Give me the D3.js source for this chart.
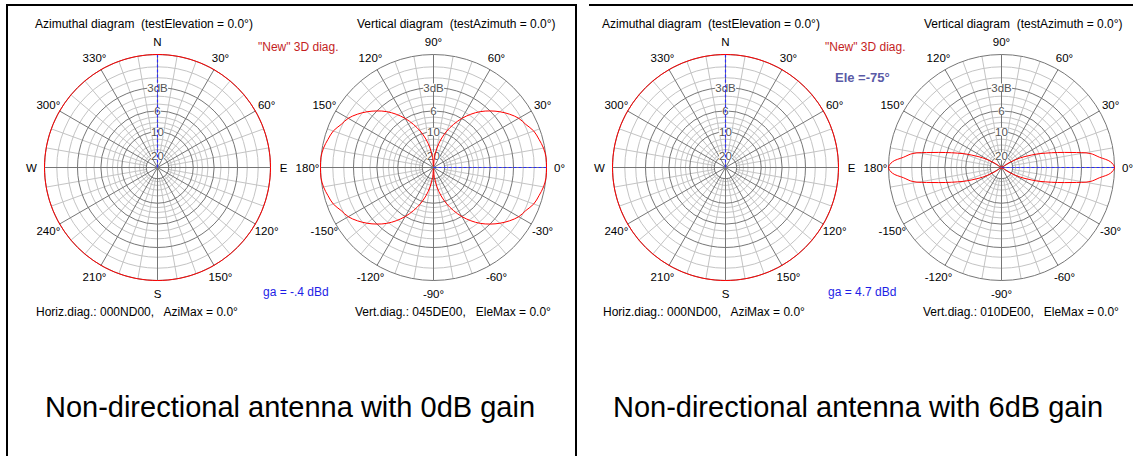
<!DOCTYPE html>
<html>
<head>
<meta charset="utf-8">
<script src="https://cdn.jsdelivr.net/npm/d3@7"></script>
<style>
body{margin:0;background:#fff}
text{font-family:"Liberation Sans",Arial,sans-serif;white-space:pre}
</style>
</head>
<body>
<div id="chart"></div>
<script>
// grid rings, in dB below maximum
var darkRings = [0, 3, 6, 10, 20]
var lightRings = [1, 2, 4, 5, 7, 8, 9, 12, 14, 16, 18]
var ringLabelDb = [3, 6, 10, 20]
var ringLabelText = ["3dB", "6", "10", "20"]

// angle labels
var aziLabelAngles = [0, 30, 60, 90, 120, 150, 180, 210, 240, 270, 300, 330]
var aziLabelText = ["N", "30°", "60°", "E", "120°", "150°", "S", "210°", "240°", "W", "300°", "330°"]
var vertLabelAngles = [0, 30, 60, 90, 120, 150, 180, -150, -120, -90, -60, -30]
var vertLabelText = ["0°", "30°", "60°", "90°", "120°", "150°", "180°", "-150°", "-120°", "-90°", "-60°", "-30°"]

// azimuth patterns (relative dB every 10 deg) - both non directional
var aziAngles = [0,10,20,30,40,50,60,70,80,90,100,110,120,130,140,150,160,170,180,190,200,210,220,230,240,250,260,270,280,290,300,310,320,330,340,350]
var aziDb0 = [0,0,0,0,0,0,0,0,0,0,0,0,0,0,0,0,0,0,0,0,0,0,0,0,0,0,0,0,0,0,0,0,0,0,0,0]
var aziDb6 = [0,0,0,0,0,0,0,0,0,0,0,0,0,0,0,0,0,0,0,0,0,0,0,0,0,0,0,0,0,0,0,0,0,0,0,0]

// vertical patterns, one quadrant (elevation 0..90), relative dB
var elevAngles0 = [0,5,10,15,20,25,30,35,40,45,50,55,60,65,70,75,80,85,90]
var elevDb0 = [0,0,-0.1,-0.3,-0.5,-0.9,-1.2,-1.7,-2.3,-3.0,-3.8,-4.8,-6.0,-7.5,-9.3,-11.7,-15.2,-21.2,-40]
var elevAngles6 = [0,3,6,9,12,15,18,21,24,27,30,33,36,90]
var elevDb6 = [0,-0.3,-1.2,-2.0,-3.9,-5.8,-7.7,-9.6,-12.0,-14.4,-18.4,-24.4,-40,-40]

var W = 1143, H = 456, R = 113

var svg = d3.select("#chart").append("svg")
    .attr("width", W).attr("height", H)
svg.append("rect").attr("width", W).attr("height", H).attr("fill", "#fff")

// table lines
svg.append("line").attr("x1", 7).attr("y1", 5).attr("x2", 7).attr("y2", H).attr("stroke", "#000").attr("stroke-width", 2)
svg.append("line").attr("x1", 576).attr("y1", 5).attr("x2", 576).attr("y2", H).attr("stroke", "#000").attr("stroke-width", 2)
svg.append("line").attr("x1", 6).attr("y1", 5).attr("x2", 577).attr("y2", 5).attr("stroke", "#000").attr("stroke-width", 2)
svg.append("line").attr("x1", 589).attr("y1", 5).attr("x2", 1133).attr("y2", 5).attr("stroke", "#000").attr("stroke-width", 2)

var amp = d3.scaleLinear().domain([0, 1]).range([0, R])
function rOf(db) { return amp(Math.pow(10, db / 20)) }

function pt(cx, cy, r, a) {
    var t = a * Math.PI / 180
    return [cx + r * Math.sin(t), cy - r * Math.cos(t)]
}

// full vertical pattern from one quadrant (symmetric up/down and front/back)
function mirror(ang, db) {
    var out = []
    var i
    for (i = 0; i < ang.length; i++) out.push([ang[i], db[i]])
    for (i = ang.length - 2; i >= 0; i--) out.push([180 - ang[i], db[i]])
    for (i = 1; i < ang.length; i++) out.push([180 + ang[i], db[i]])
    for (i = ang.length - 2; i > 0; i--) out.push([360 - ang[i], db[i]])
    return out
}

function drawGrid(g, cx, cy) {
    lightRings.forEach(function(d) {
        g.append("circle").attr("cx", cx).attr("cy", cy).attr("r", rOf(-d))
            .attr("fill", "none").attr("stroke", "#c4c4c4")
    })
    d3.range(0, 360, 10).forEach(function(a) {
        if (a % 30 == 0) return
        var p1 = pt(cx, cy, rOf(-20), a), p2 = pt(cx, cy, R, a)
        g.append("line").attr("x1", p1[0]).attr("y1", p1[1]).attr("x2", p2[0]).attr("y2", p2[1])
            .attr("stroke", "#c4c4c4")
    })
    d3.range(0, 360, 30).forEach(function(a) {
        var p2 = pt(cx, cy, R, a)
        g.append("line").attr("x1", cx).attr("y1", cy).attr("x2", p2[0]).attr("y2", p2[1])
            .attr("stroke", "#767676")
    })
    darkRings.forEach(function(d) {
        g.append("circle").attr("cx", cx).attr("cy", cy).attr("r", rOf(-d))
            .attr("fill", "none").attr("stroke", "#767676")
    })
    // dB labels on the upward axis
    ringLabelDb.forEach(function(d, i) {
        var y = cy - rOf(-d)
        var t = g.append("text").attr("x", cx).attr("y", y).attr("text-anchor", "middle")
            .attr("dominant-baseline", "central").attr("font-size", 11.5).attr("fill", "#555")
            .text(ringLabelText[i])
        var b = t.node().getBBox()
        g.insert("rect", function() { return t.node() })
            .attr("x", b.x).attr("y", b.y + 2).attr("width", b.width).attr("height", b.height - 4)
            .attr("fill", "#fff")
    })
}

function angleLabels(g, cx, cy, angles, texts, rot) {
    angles.forEach(function(a, i) {
        var p = pt(cx, cy, R + 13, rot(a))
        g.append("text").attr("x", p[0]).attr("y", p[1]).attr("text-anchor", "middle")
            .attr("dominant-baseline", "central").attr("font-size", 11.5).attr("fill", "#000")
            .text(texts[i])
    })
}

var radial = d3.lineRadial()
    .angle(function(d) { return d[0] * Math.PI / 180 })
    .radius(function(d) { return rOf(d[1]) })
    .curve(d3.curveCatmullRomClosed)

function aziDiagram(cx, cy, db) {
    var g = svg.append("g")
    var rot = function(a) { return a }
    drawGrid(g, cx, cy)
    angleLabels(g, cx, cy, aziLabelAngles, aziLabelText, rot)
    g.append("line").attr("x1", cx).attr("y1", cy).attr("x2", cx).attr("y2", cy - R)
        .attr("stroke", "#2a2aff").attr("stroke-width", 1.2).attr("stroke-dasharray", "3,2")
    var pts = aziAngles.map(function(a, i) { return [a, db[i]] })
    g.append("path").attr("transform", "translate(" + cx + "," + cy + ")")
        .attr("d", radial(pts)).attr("fill", "none").attr("stroke", "#ff0000")
}

function vertDiagram(cx, cy, ang, db) {
    var g = svg.append("g")
    var rot = function(a) { return 90 - a }
    drawGrid(g, cx, cy)
    angleLabels(g, cx, cy, vertLabelAngles, vertLabelText, rot)
    g.append("line").attr("x1", cx).attr("y1", cy).attr("x2", cx + R).attr("y2", cy)
        .attr("stroke", "#2a2aff").attr("stroke-width", 1.2).attr("stroke-dasharray", "3,2")
    var pts = mirror(ang, db).map(function(d) { return [90 - d[0], d[1]] })
    g.append("path").attr("transform", "translate(" + cx + "," + cy + ")")
        .attr("d", radial(pts)).attr("fill", "none").attr("stroke", "#ff0000")
}

function txt(x, y, s, size, color, weight) {
    svg.append("text").attr("x", x).attr("y", y).attr("font-size", size)
        .attr("fill", color).attr("font-weight", weight || "normal").text(s)
}

// left panel
aziDiagram(157.5, 167.5, aziDb0)
vertDiagram(433.5, 167.5, elevAngles0, elevDb0)
txt(35, 28, "Azimuthal diagram  (testElevation = 0.0°)", 12, "#000")
txt(357, 28, "Vertical diagram  (testAzimuth = 0.0°)", 12, "#000")
txt(258, 51, "\"New\" 3D diag.", 12, "#c41e1e")
txt(263, 296, "ga = -.4 dBd", 12, "#1e1ee6")
txt(36, 316, "Horiz.diag.: 000ND00,   AziMax = 0.0°", 12, "#000")
txt(355, 316, "Vert.diag.: 045DE00,   EleMax = 0.0°", 12, "#000")
svg.append("text").attr("x", 290).attr("y", 417).attr("text-anchor", "middle")
    .attr("font-size", 29).text("Non-directional antenna with 0dB gain")

// right panel
aziDiagram(725.5, 167.5, aziDb6)
vertDiagram(1001.5, 167.5, elevAngles6, elevDb6)
txt(602, 28, "Azimuthal diagram  (testElevation = 0.0°)", 12, "#000")
txt(924, 28, "Vertical diagram  (testAzimuth = 0.0°)", 12, "#000")
txt(825, 51, "\"New\" 3D diag.", 12, "#c41e1e")
txt(835, 82, "Ele =-75°", 13, "#5a5aa6", "bold")
txt(828, 296, "ga = 4.7 dBd", 12, "#1e1ee6")
txt(603, 316, "Horiz.diag.: 000ND00,   AziMax = 0.0°", 12, "#000")
txt(923, 316, "Vert.diag.: 010DE00,   EleMax = 0.0°", 12, "#000")
svg.append("text").attr("x", 858).attr("y", 417).attr("text-anchor", "middle")
    .attr("font-size", 29).text("Non-directional antenna with 6dB gain")
</script>
</body>
</html>
